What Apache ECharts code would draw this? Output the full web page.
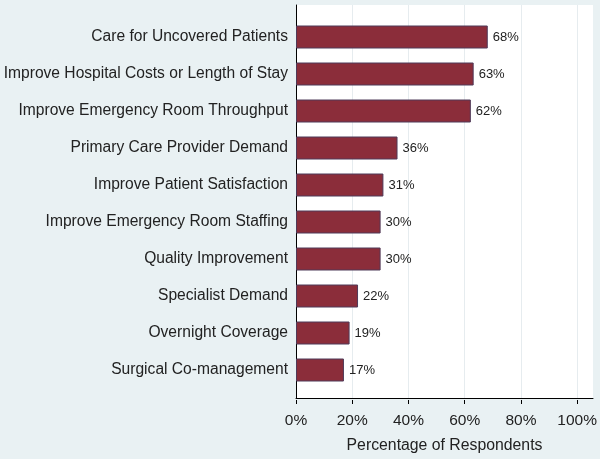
<!DOCTYPE html>
<html>
<head>
<meta charset="utf-8">
<script src="https://cdn.jsdelivr.net/npm/echarts@6/dist/echarts.min.js"></script>
<style>
html,body{margin:0;padding:0;background:#e9f1f3;}
#chart{width:600px;height:459px;}
</style>
</head>
<body>
<div id="chart"></div>
<script>
const categories = [
  "Care for Uncovered Patients",
  "Improve Hospital Costs or Length of Stay",
  "Improve Emergency Room Throughput",
  "Primary Care Provider Demand",
  "Improve Patient Satisfaction",
  "Improve Emergency Room Staffing",
  "Quality Improvement",
  "Specialist Demand",
  "Overnight Coverage",
  "Surgical Co-management"
];
const values = [68, 63, 62, 36, 31, 30, 30, 22, 19, 17];
const xTicks = [0, 20, 40, 60, 80, 100];
const xAxisTitle = "Percentage of Respondents";

const font = "Liberation Sans, Arial, sans-serif";
const chart = echarts.init(document.getElementById('chart'));
chart.setOption({
  backgroundColor: '#e9f1f3',
  animation: false,
  grid: [
    {left: 296, right: 7, top: 5, bottom: 59, show: true, backgroundColor: '#ffffff', borderWidth: 0},
    {left: 296, right: 22, top: 5, bottom: 59},
    {left: 296, right: 22, top: 18.5, bottom: 70.5}
  ],
  xAxis: [
    {gridIndex: 0, type: 'value', min: 0, max: 1,
     axisLine: {show: true, lineStyle: {color: '#000', width: 1}},
     axisTick: {show: false}, axisLabel: {show: false}, splitLine: {show: false},
     name: xAxisTitle, nameLocation: 'middle', nameGap: 40,
     nameTextStyle: {fontFamily: font, fontSize: 15.8, color: '#222'}},
    {gridIndex: 1, type: 'value', min: xTicks[0], max: xTicks[xTicks.length - 1], interval: 20,
     axisLine: {show: false},
     axisTick: {show: true, length: 4, lineStyle: {color: '#000'}},
     axisLabel: {formatter: '{value}%', fontFamily: font, fontSize: 15.5, color: '#222', margin: 13},
     splitLine: {show: true, lineStyle: {color: '#e6ecef', width: 1}}},
    {gridIndex: 2, type: 'value', min: xTicks[0], max: xTicks[xTicks.length - 1], show: false}
  ],
  yAxis: [
    {gridIndex: 0, type: 'value', axisLine: {show: true, lineStyle: {color: '#000'}},
     axisTick: {show: false}, axisLabel: {show: false}, splitLine: {show: false}},
    {gridIndex: 1, type: 'value', show: false},
    {gridIndex: 2, type: 'category', data: categories, inverse: true,
     axisLine: {show: false}, axisTick: {show: false}, splitLine: {show: false},
     axisLabel: {fontFamily: font, fontSize: 15.6, color: '#222', margin: 8}}
  ],
  series: [{
    type: 'bar', xAxisIndex: 2, yAxisIndex: 2, data: values, barWidth: 23,
    itemStyle: {color: '#8b2d3a', borderColor: '#4f3a58', borderWidth: 1},
    label: {show: true, position: 'right', distance: 5, formatter: '{c}%',
            fontFamily: font, fontSize: 13, color: '#222'}
  }]
});
</script>
</body>
</html>
